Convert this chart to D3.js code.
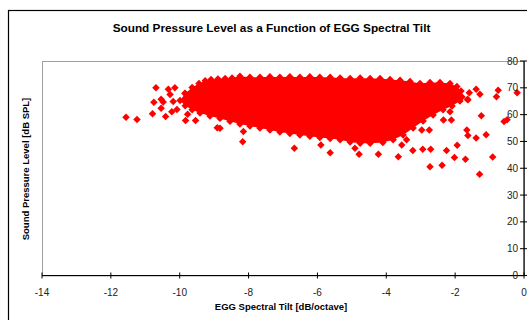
<!DOCTYPE html>
<html>
<head>
<meta charset="utf-8">
<script src="https://cdn.jsdelivr.net/npm/d3@7"></script>
<style>
  body { margin: 0; background: #fff; }
  svg { display: block; font-family: "Liberation Sans", Arial, sans-serif; }
</style>
</head>
<body>
<svg id="chart" width="527" height="320"></svg>
<script>
// Axis ticks
const xTicks = [-14, -12, -10, -8, -6, -4, -2, 0];
const yTicks = [0, 10, 20, 30, 40, 50, 60, 70, 80];

// Dense cloud edge: upper edge left -> right
const cloudUpper = [
  [-9.99, 65.3], [-9.84, 67.9], [-9.64, 70.1], [-9.44, 71.6], [-9.26, 72.6],
  [-9.09, 73.1], [-8.89, 73.3], [-8.68, 73.5], [-8.48, 73.7], [-8.25, 74.3],
  [-7.96, 73.9], [-7.67, 73.9], [-7.38, 74.1], [-7.09, 73.9], [-6.80, 74.1],
  [-6.51, 73.9], [-6.22, 74.1], [-5.93, 73.9], [-5.63, 73.9], [-5.34, 73.7],
  [-5.05, 73.5], [-4.76, 73.7], [-4.47, 73.5], [-4.18, 73.5], [-3.89, 73.1],
  [-3.60, 72.8], [-3.31, 72.4], [-3.02, 71.6], [-2.73, 72.0], [-2.44, 72.0],
  [-2.15, 71.6], [-1.95, 70.5], [-1.83, 68.8], [-1.80, 66.6]
];
// lower edge right -> left
const cloudLower = [
  [-1.86, 65.1], [-2.09, 63.2], [-2.35, 61.8], [-2.64, 59.9], [-2.93, 57.6],
  [-3.22, 55.0], [-3.51, 52.4], [-3.80, 50.6], [-4.10, 49.6], [-4.47, 49.3],
  [-4.76, 49.3], [-5.05, 49.8], [-5.34, 50.6], [-5.63, 51.1], [-5.93, 51.5],
  [-6.22, 51.9], [-6.51, 52.4], [-6.80, 53.0], [-7.09, 53.5], [-7.38, 54.3],
  [-7.67, 55.0], [-7.96, 55.8], [-8.25, 56.5], [-8.54, 57.5], [-8.83, 58.6],
  [-9.12, 59.5], [-9.41, 60.6], [-9.64, 61.8], [-9.84, 63.3]
];
// Scattered points outside the dense cloud
const outliers = [
  [-11.56, 59.0], [-11.24, 58.2], [-10.79, 60.3], [-10.69, 70.0], [-10.75, 64.6],
  [-10.54, 62.4], [-10.54, 65.7], [-10.48, 64.7], [-10.33, 69.5], [-10.28, 67.5],
  [-10.14, 70.0], [-10.19, 64.9], [-10.41, 59.3], [-10.23, 61.1], [-10.08, 61.9],
  [-9.83, 57.8], [-9.54, 57.8], [-9.85, 68.0], [-9.77, 60.1], [-8.91, 55.1],
  [-8.83, 54.9], [-8.17, 49.9], [-8.15, 53.7], [-6.67, 47.5], [-5.90, 48.7],
  [-5.63, 45.8], [-4.91, 47.5], [-4.79, 45.2], [-4.23, 45.2], [-3.65, 44.3],
  [-3.55, 48.7], [-3.41, 50.6], [-3.23, 46.6], [-2.94, 47.1], [-2.71, 47.1],
  [-2.73, 40.6], [-2.38, 41.1], [-2.25, 46.6], [-2.02, 44.0], [-1.94, 48.6],
  [-1.70, 43.4], [-1.66, 54.3], [-1.63, 52.2], [-1.39, 51.3], [-1.10, 52.5],
  [-1.29, 37.8], [-0.91, 44.2], [-1.24, 59.6], [-0.58, 57.4], [-0.49, 58.1],
  [-2.15, 61.1], [-2.34, 58.0], [-2.11, 58.0], [-2.97, 54.3], [-2.75, 54.3],
  [-1.63, 65.5], [-1.59, 68.2], [-1.64, 65.7], [-1.39, 69.5], [-1.28, 67.6],
  [-0.75, 69.1], [-0.80, 66.7], [-0.20, 68.2]
];

const svg = d3.select("#chart");
const plot = { left: 42, right: 524, top: 61, bottom: 275.5 };
const red = "#ff0000";

const x = d3.scaleLinear().domain([-14, 0]).range([plot.left, plot.right]);
const y = d3.scaleLinear().domain([0, 80]).range([plot.bottom, plot.top]);

// outer chart border (runs off the right / bottom of the view)
svg.append("rect")
  .attr("x", 8.5).attr("y", 10.5)
  .attr("width", 540).attr("height", 330)
  .attr("fill", "#fff").attr("stroke", "#000").attr("stroke-width", 1.2);

// plot area frame
svg.append("rect")
  .attr("x", plot.left + 0.5).attr("y", plot.top + 0.5)
  .attr("width", plot.right - plot.left).attr("height", plot.bottom - plot.top)
  .attr("fill", "#fff").attr("stroke", "#a0a0a0").attr("stroke-width", 1);

// dense cloud body
const cloud = cloudUpper.concat(cloudLower);
svg.append("path")
  .attr("d", d3.line().x(d => x(d[0])).y(d => y(d[1])).curve(d3.curveLinearClosed)(cloud))
  .attr("fill", red);

// diamond markers
const diamond = d3.symbol().type(d3.symbolSquare).size(28);
svg.append("g").selectAll("path")
  .data(cloud.concat(outliers))
  .join("path")
  .attr("d", diamond)
  .attr("transform", d => `translate(${x(d[0])},${y(d[1])}) rotate(45)`)
  .attr("fill", red);

// x axis
const xAxis = svg.append("g").attr("transform", `translate(0,${plot.bottom})`);
xAxis.append("line")
  .attr("x1", plot.left).attr("x2", plot.right)
  .attr("stroke", "#000").attr("stroke-width", 1.2);
xAxis.selectAll(".xt").data(xTicks).join("line")
  .attr("x1", d => x(d)).attr("x2", d => x(d))
  .attr("y1", -3).attr("y2", 3)
  .attr("stroke", "#000");
xAxis.selectAll(".xl").data(xTicks).join("text")
  .attr("x", d => x(d)).attr("y", 20)
  .attr("text-anchor", "middle")
  .attr("font-size", 10).attr("fill", "#222")
  .text(d => d);

// y axis (crosses at x = 0, on the right)
const yAxis = svg.append("g").attr("transform", `translate(${plot.right},0)`);
yAxis.append("line")
  .attr("y1", plot.top).attr("y2", plot.bottom)
  .attr("stroke", "#000").attr("stroke-width", 1.2);
yAxis.selectAll(".yt").data(yTicks).join("line")
  .attr("y1", d => y(d)).attr("y2", d => y(d))
  .attr("x1", -4).attr("x2", 4)
  .attr("stroke", "#000");
yAxis.selectAll(".yl").data(yTicks).join("text")
  .attr("x", -6).attr("y", d => y(d) + 3.5)
  .attr("text-anchor", "end")
  .attr("font-size", 10).attr("fill", "#222")
  .text(d => d);

// titles
svg.append("text")
  .attr("x", 271.5).attr("y", 32)
  .attr("text-anchor", "middle")
  .attr("font-size", 11.8).attr("font-weight", "bold")
  .text("Sound Pressure Level as a Function of EGG Spectral Tilt");

svg.append("text")
  .attr("x", 281).attr("y", 310)
  .attr("text-anchor", "middle")
  .attr("font-size", 9.5).attr("font-weight", "bold")
  .text("EGG Spectral Tilt [dB/octave]");

svg.append("text")
  .attr("transform", "translate(29,169) rotate(-90)")
  .attr("text-anchor", "middle")
  .attr("font-size", 9.5).attr("font-weight", "bold")
  .text("Sound Pressure Level [dB SPL]");
</script>
</body>
</html>
